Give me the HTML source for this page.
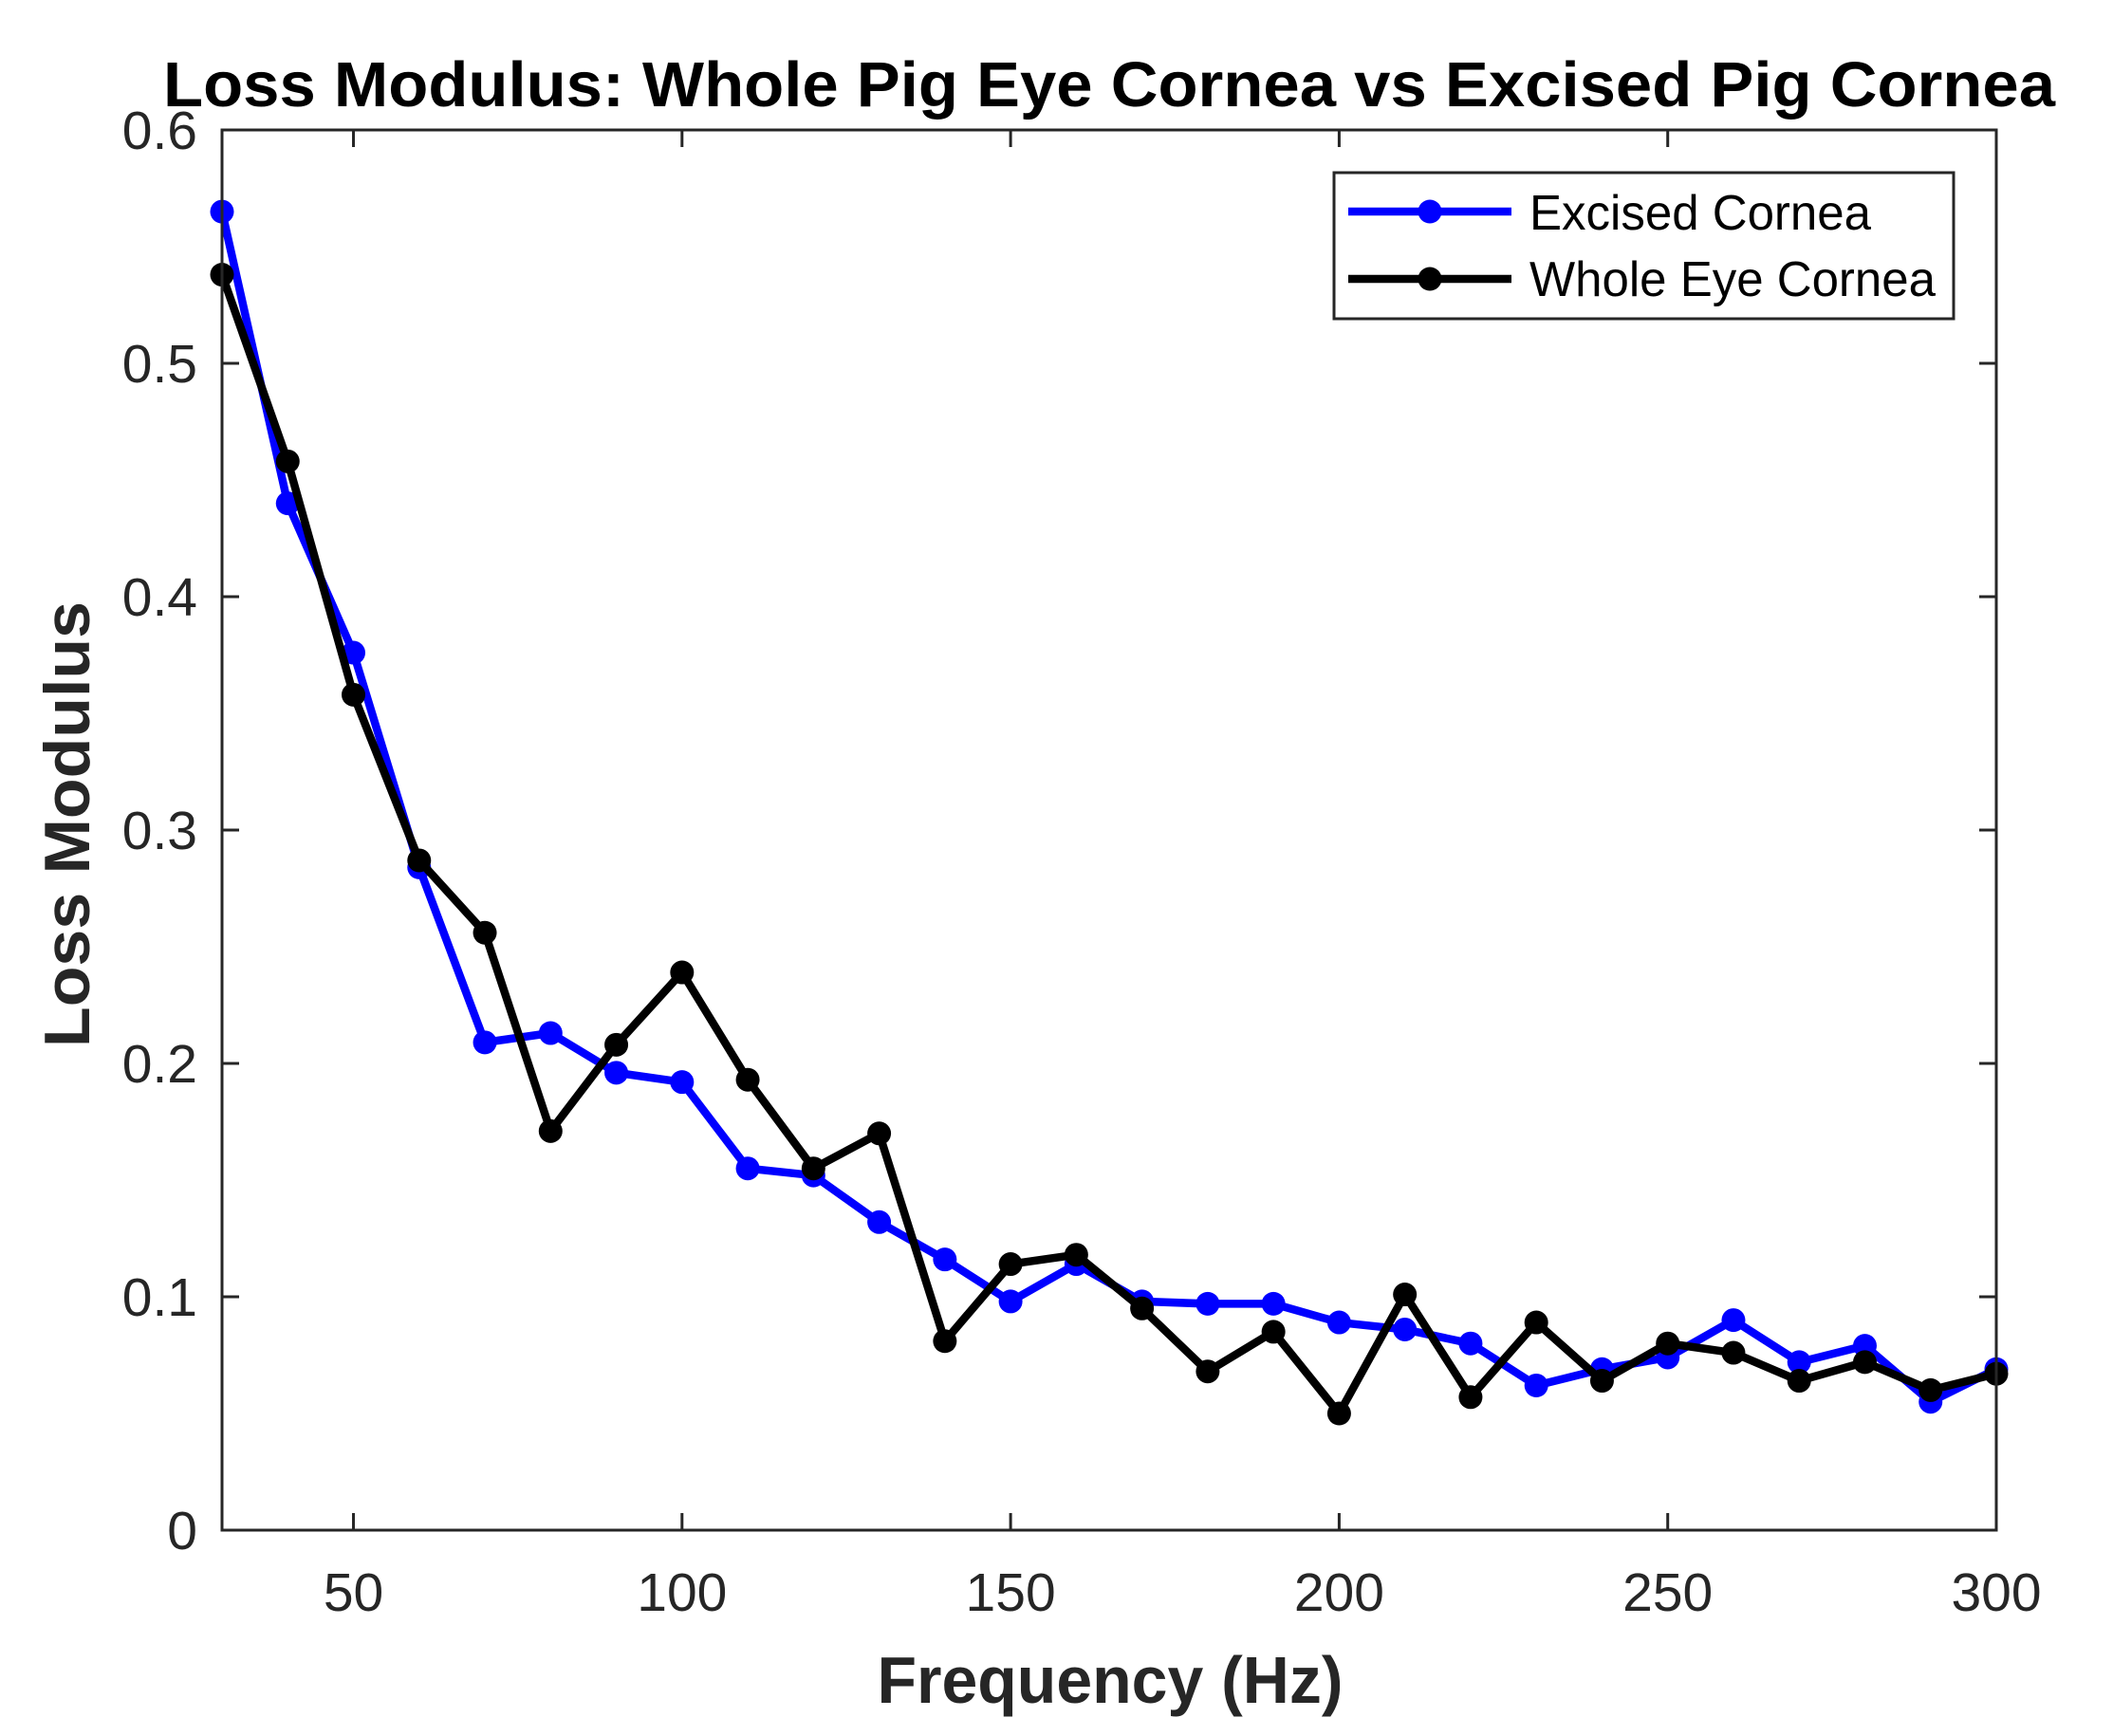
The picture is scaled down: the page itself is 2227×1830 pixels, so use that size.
<!DOCTYPE html>
<html>
<head>
<meta charset="utf-8">
<style>
html,body{margin:0;padding:0;background:#fff;}
svg{display:block;}
text{font-family:"Liberation Sans",Arial,sans-serif;}
</style>
</head>
<body>
<svg id="chart" width="2227" height="1830" viewBox="0 0 2227 1830" xmlns="http://www.w3.org/2000/svg">
  <rect x="0" y="0" width="2227" height="1830" fill="#fff"/>
  <text x="1169" y="112" text-anchor="middle" font-size="67" font-weight="bold" fill="#000" textLength="1994" lengthAdjust="spacingAndGlyphs">Loss Modulus: Whole Pig Eye Cornea vs Excised Pig Cornea</text>
  <rect x="234" y="137" width="1870" height="1476" fill="#fff"/>
  <g id="grid-ticks"></g>
  <g id="series"></g>
  <rect x="234" y="137" width="1870" height="1476" fill="none" stroke="#262626" stroke-width="3"/>
  <text x="1170" y="1795" text-anchor="middle" font-size="70" font-weight="bold" fill="#262626" textLength="491" lengthAdjust="spacingAndGlyphs">Frequency (Hz)</text>
  <text transform="translate(94,869) rotate(-90)" text-anchor="middle" font-size="68" font-weight="bold" fill="#262626" textLength="470" lengthAdjust="spacingAndGlyphs">Loss Modulus</text>
  <g>
    <rect x="1406" y="182" width="653" height="154" fill="#fff" stroke="#262626" stroke-width="3"/>
    <g>
      <line x1="1421" y1="223" x2="1593" y2="223" stroke="#0000ff" stroke-width="8.5"/>
      <circle cx="1507" cy="223" r="12.5" fill="#0000ff"/>
      <text x="1612" y="242" font-size="52" fill="#000" textLength="360" lengthAdjust="spacingAndGlyphs">Excised Cornea</text>
    </g>
    <g>
      <line x1="1421" y1="294" x2="1593" y2="294" stroke="#000" stroke-width="8.5"/>
      <circle cx="1507" cy="294" r="12.5" fill="#000"/>
      <text x="1612" y="312" font-size="52" fill="#000" textLength="428" lengthAdjust="spacingAndGlyphs">Whole Eye Cornea</text>
    </g>
  </g>
</svg>
<script>
const freqs = [30,40,50,60,70,80,90,100,110,120,130,140,150,160,170,180,190,200,210,220,230,240,250,260,270,280,290,300];
const excised = [0.565,0.440,0.376,0.284,0.209,0.213,0.196,0.192,0.155,0.152,0.132,0.116,0.098,0.114,0.098,0.097,0.097,0.089,0.086,0.080,0.062,0.069,0.074,0.090,0.072,0.079,0.055,0.069];
const wholeEye = [0.538,0.458,0.358,0.287,0.256,0.171,0.208,0.239,0.193,0.155,0.170,0.081,0.114,0.118,0.095,0.068,0.085,0.050,0.101,0.057,0.089,0.064,0.080,0.076,0.064,0.072,0.060,0.067];
const xTicks = [50,100,150,200,250,300];
const yTicks = [0,0.1,0.2,0.3,0.4,0.5,0.6];
const yTickLabels = ["0","0.1","0.2","0.3","0.4","0.5","0.6"];

const NS = "http://www.w3.org/2000/svg";
const L = 234, R = 2104, T = 137, B = 1613;
const xMin = 30, xMax = 300, yMin = 0, yMax = 0.6;
function xs(v){ return L + (v - xMin) / (xMax - xMin) * (R - L); }
function ys(v){ return B - (v - yMin) / (yMax - yMin) * (B - T); }
function mk(tag, attrs){ const e = document.createElementNS(NS, tag); for (const k in attrs) e.setAttribute(k, attrs[k]); return e; }

const tg = document.getElementById('grid-ticks');
xTicks.forEach(function(t){
  const x = xs(t);
  const a = mk('line', {x1:x, y1:B, x2:x, y2:B-18, stroke:'#262626', 'stroke-width':3});
  
  
  tg.appendChild(a);
  const b = mk('line', {x1:x, y1:T, x2:x, y2:T+18, stroke:'#262626', 'stroke-width':3});
  
  
  tg.appendChild(b);
  const tx = mk('text', {x:x, y:1698, 'text-anchor':'middle', 'font-size':57, fill:'#262626'});
  tx.textContent = String(t);
  
  
  tg.appendChild(tx);
});
yTicks.forEach(function(t, i){
  const y = ys(t);
  const a = mk('line', {x1:L, y1:y, x2:L+18, y2:y, stroke:'#262626', 'stroke-width':3});
  
  
  tg.appendChild(a);
  const b = mk('line', {x1:R, y1:y, x2:R-18, y2:y, stroke:'#262626', 'stroke-width':3});
  
  
  tg.appendChild(b);
  const tx = mk('text', {x:208, y:y+20, 'text-anchor':'end', 'font-size':57, fill:'#262626'});
  tx.textContent = yTickLabels[i];
  
  
  tg.appendChild(tx);
});

const sg = document.getElementById('series');
function drawSeries(vals, color, name){
  const pts = vals.map(function(v, i){ return xs(freqs[i]) + ',' + ys(v); }).join(' ');
  const pl = mk('polyline', {points:pts, fill:'none', stroke:color, 'stroke-width':8.5, 'stroke-linejoin':'round'});
  
  
  sg.appendChild(pl);
  vals.forEach(function(v, i){
    const c = mk('circle', {cx:xs(freqs[i]), cy:ys(v), r:12.5, fill:color});
    
    
    sg.appendChild(c);
  });
}
drawSeries(excised, '#0000ff', 'excised-cornea');
drawSeries(wholeEye, '#000000', 'whole-eye-cornea');
</script>
</body>
</html>
